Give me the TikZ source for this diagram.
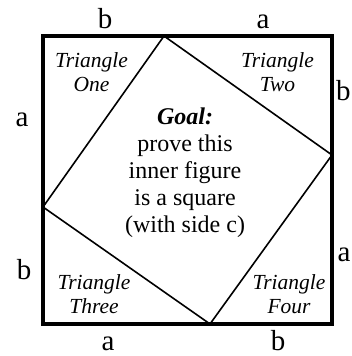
\documentclass[tikz,border=0pt]{standalone}
\usepackage{fontspec}
\setmainfont{Liberation Serif}
\usetikzlibrary{positioning}

\begin{document}
\begin{tikzpicture}[x=1pt, y=-1pt,
    frame/.style={line width=3.5pt},
    tilt/.style={line width=1.6pt, line join=miter},
    side/.style={font=\fontsize{29}{29}\selectfont, inner sep=0pt, anchor=base},
    tri/.style={font=\fontsize{21.5}{23.5}\selectfont\itshape, align=center, inner sep=0pt},
    goal/.style={font=\fontsize{24}{27}\selectfont, align=center, inner sep=0pt},
  ]
    \useasboundingbox (0,0) rectangle (351,356);
    % outer square and the inner (tilted) one
    \coordinate (nw) at (43,36);
    \coordinate (se) at (332,324);
    \coordinate (top) at (164,36);
    \coordinate (right) at (332,155);
    \coordinate (bottom) at (210,324);
    \coordinate (left) at (43,207);

    \draw[tilt] (top) -- (right) -- (bottom) -- (left) -- cycle;
    \draw[frame] (nw) rectangle (se);

    \node[tri] (one) at (91.5,72) {Triangle\\One};
    \node[tri] (two) at (277.5,72) {Triangle\\Two};
    \node[tri] (three) at (94,294) {Triangle\\Three};
    \node[tri] (four) at (289,294) {Triangle\\Four};

    \node[goal] (goal) at (185,173) {\textbf{\textit{Goal:}}\\prove this\\inner figure\\is a square\\(with side c)};

    % side lengths
    \node[side] (topb) at (105,28) {b};
    \node[side] (topa) at (263,28) {a};
    \node[side] (lefta) at (22,126) {a};
    \node[side] (leftb) at (24,279) {b};
    \node[side, anchor=base west] (rightb) at (336,100) {b};
    \node[side, anchor=base west] (righta) at (337.5,261) {a};
    \node[side] (bota) at (108,350) {a};
    \node[side] (botb) at (278,350) {b};
  \end{tikzpicture}
\end{document}
